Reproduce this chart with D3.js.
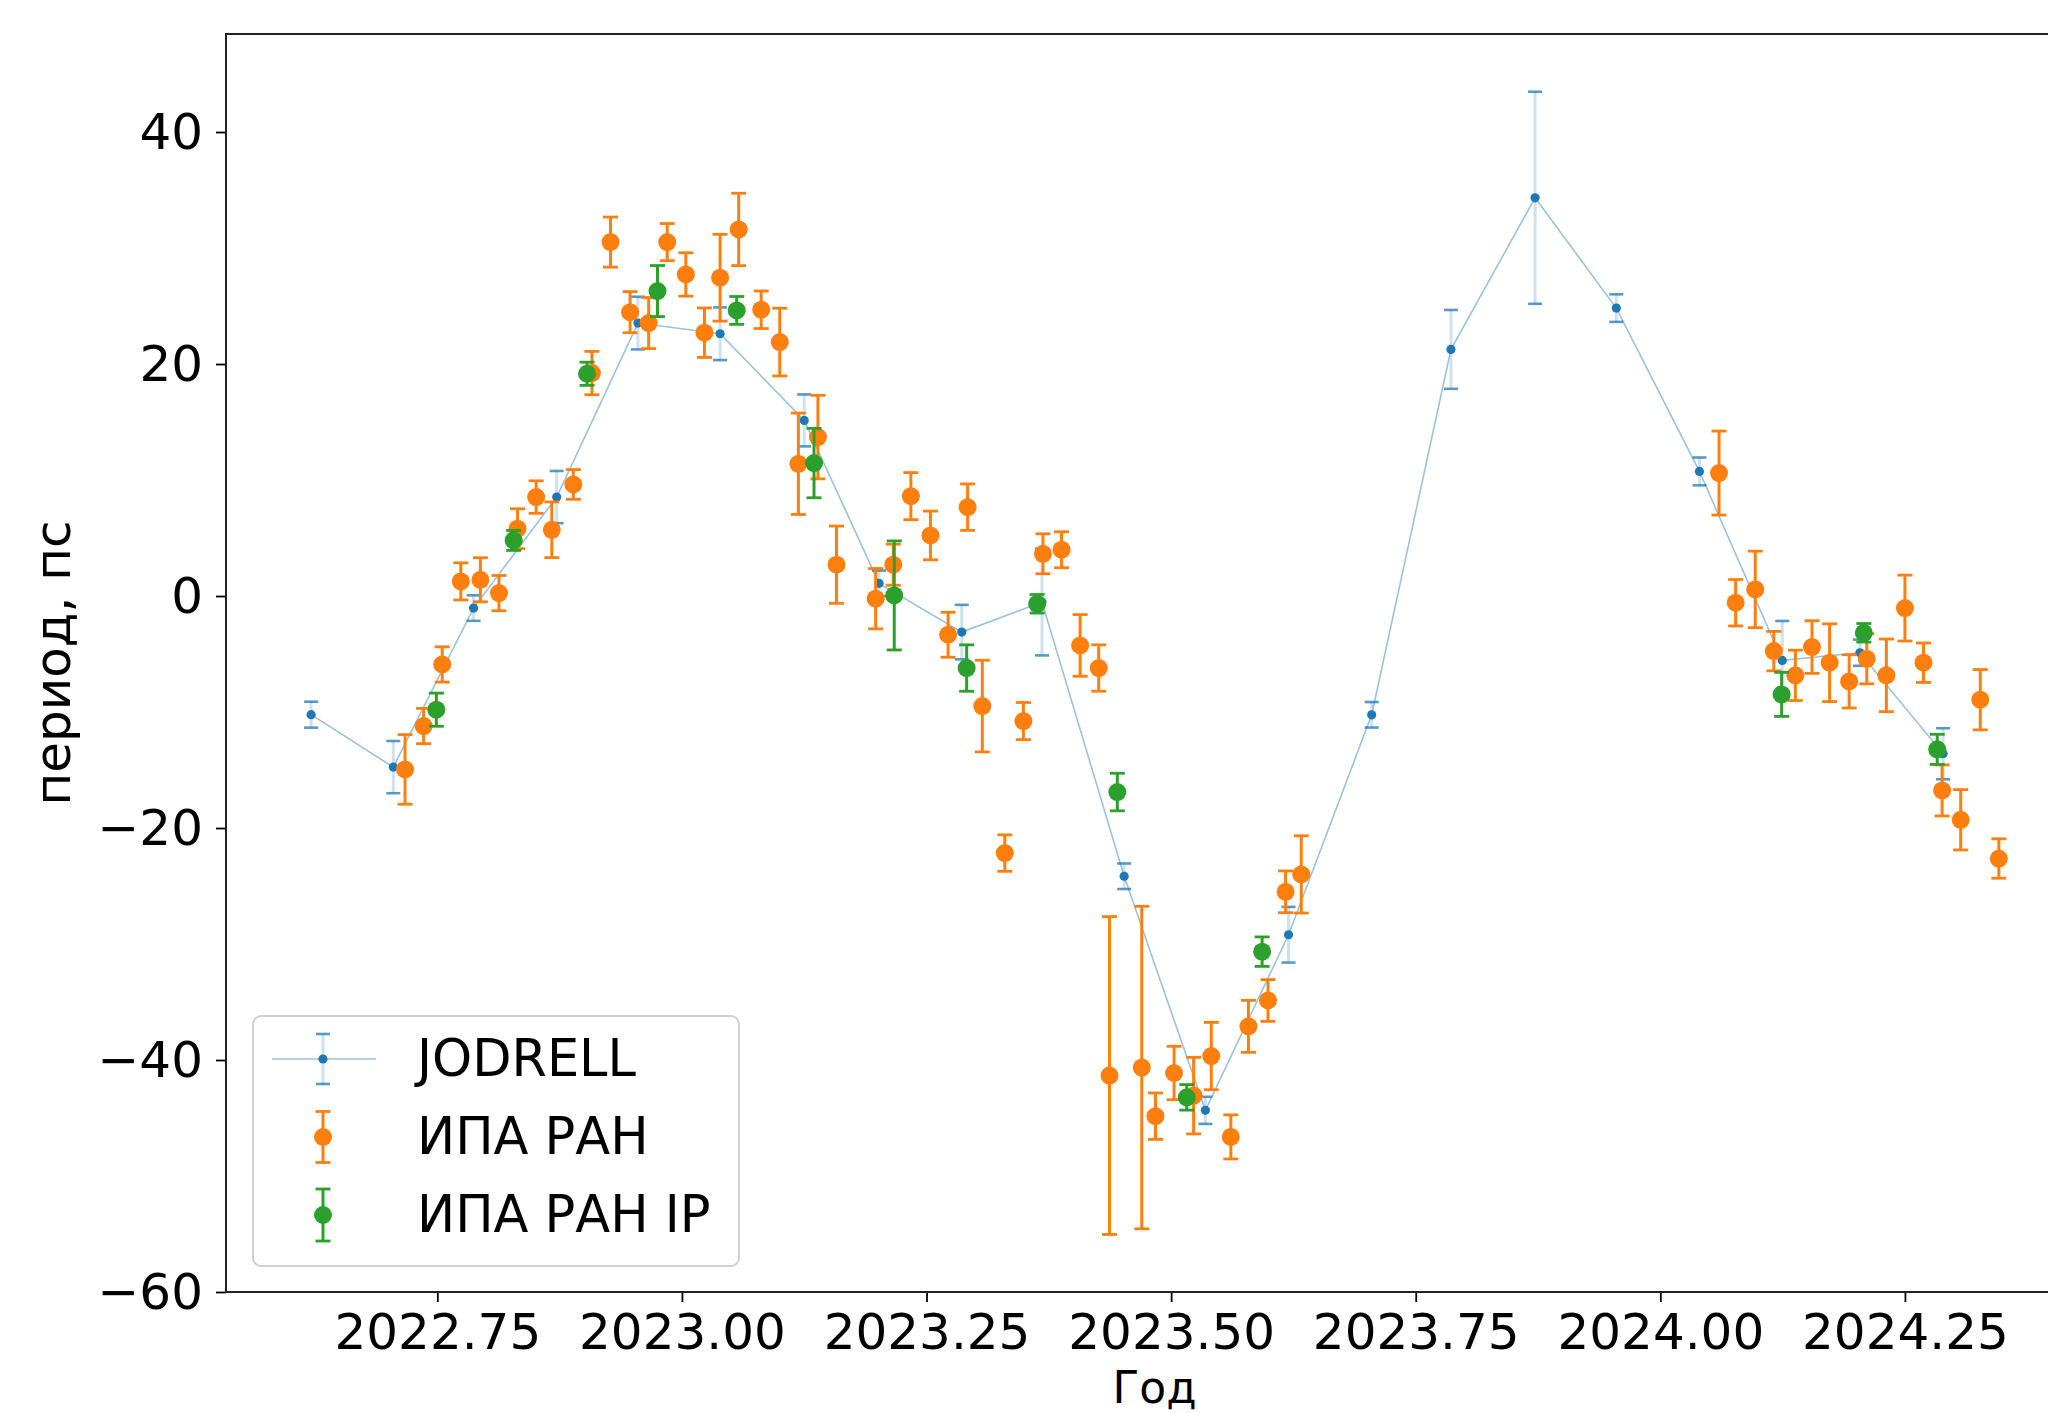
<!DOCTYPE html>
<html>
<head>
<meta charset="utf-8">
<script src="https://cdn.jsdelivr.net/npm/d3@7"></script>
<style>
  html, body { margin: 0; padding: 0; background: #ffffff; }
  svg { display: block; }
  text { font-family: "DejaVu Sans", sans-serif; }
</style>
</head>
<body>
<svg id="chart" width="2048" height="1413"></svg>
<script>
// JODRELL timing: epoch (year), period offset (ps), 1-sigma error
const jodrellT = [2022.621, 2022.705, 2022.787, 2022.872, 2022.955, 2023.039, 2023.125, 2023.2015,
  2023.286, 2023.368, 2023.452, 2023.535, 2023.620, 2023.705, 2023.786, 2023.872, 2023.955,
  2024.040, 2024.1246, 2024.204, 2024.289];
const jodrellV = [-10.23, -14.75, -1.04, 8.53, 23.53, 22.61, 15.14, 1.09,
  -3.11, -0.52, -24.16, -44.34, -29.2, -10.24, 21.26, 34.33, 24.82,
  10.74, -5.55, -4.89, -13.6];
const jodrellE = [1.12, 2.25, 1.1, 2.25, 2.27, 2.27, 2.24, 1.1,
  2.35, 4.6, 1.1, 1.17, 2.4, 1.1, 3.4, 9.14, 1.19,
  1.2, 3.4, 1.13, 2.2];

// ИПА РАН timing
const ipaT = [2022.717, 2022.736, 2022.755, 2022.774, 2022.794, 2022.813, 2022.832, 2022.851,
  2022.867, 2022.889, 2022.908, 2022.927, 2022.947, 2022.966, 2022.985, 2023.004,
  2023.023, 2023.039, 2023.058, 2023.081, 2023.100, 2023.119, 2023.139, 2023.158,
  2023.198, 2023.216, 2023.234, 2023.254, 2023.272, 2023.292, 2023.307, 2023.330,
  2023.349, 2023.369, 2023.388, 2023.407, 2023.426, 2023.437, 2023.470, 2023.484,
  2023.503, 2023.523, 2023.541, 2023.561, 2023.579, 2023.599, 2023.617, 2023.633,
  2024.060, 2024.077, 2024.097, 2024.116, 2024.138, 2024.155, 2024.173, 2024.193,
  2024.211, 2024.231, 2024.250, 2024.269, 2024.288, 2024.307, 2024.327, 2024.346];
const ipaV = [-14.95, -11.21, -5.9, 1.26, 1.4, 0.25, 5.8, 8.53,
  5.71, 9.62, 19.22, 30.51, 24.47, 23.53, 30.51, 27.72,
  22.7, 27.44, 31.6, 24.68, 21.89, 11.4, 13.7, 2.7,
  -0.23, 2.7, 8.61, 5.22, -3.34, 7.66, -9.49, -22.16,
  -10.78, 3.64, 3.99, -4.26, -6.21, -41.34, -40.65, -44.84,
  -41.12, -43.07, -39.66, -46.63, -37.1, -34.87, -25.5, -24.0,
  10.6, -0.58, 0.57, -4.75, -6.84, -4.4, -5.75, -7.36,
  -5.41, -6.84, -1.04, -5.75, -16.76, -19.29, -8.94, -22.63];
const ipaE = [3.0, 1.52, 1.52, 1.6, 1.9, 1.52, 1.72, 1.4,
  2.4, 1.28, 1.87, 2.16, 1.77, 2.2, 1.6, 1.87,
  2.13, 3.74, 3.12, 1.62, 2.92, 4.37, 3.6, 3.33,
  2.6, 1.77, 2.03, 2.1, 1.94, 2.0, 3.95, 1.57,
  1.6, 1.72, 1.55, 2.66, 2.0, 13.7, 13.9, 2.0,
  2.3, 3.3, 2.9, 1.9, 2.24, 1.8, 1.8, 3.33,
  3.62, 2.0, 3.3, 1.7, 2.17, 2.27, 3.35, 2.3,
  2.16, 3.13, 2.84, 1.7, 2.2, 2.6, 2.6, 1.7];

// ИПА РАН IP timing
const ipT = [2022.749, 2022.828, 2022.903, 2022.975, 2023.056, 2023.135, 2023.217, 2023.291,
  2023.363, 2023.445, 2023.516, 2023.593, 2024.124, 2024.208, 2024.283];
const ipV = [-9.8, 4.79, 19.16, 26.29, 24.62, 11.46, 0.05, -6.21,
  -0.67, -16.9, -43.22, -30.66, -8.48, -3.17, -13.22];
const ipE = [1.43, 0.86, 1.0, 2.2, 1.2, 2.99, 4.7, 2.0,
  0.8, 1.62, 1.1, 1.27, 1.9, 0.8, 1.3];

// Axis ticks and labels
const xTicks = [2022.75, 2023.00, 2023.25, 2023.50, 2023.75, 2024.00, 2024.25];
const yTicks = [-60, -40, -20, 0, 20, 40];
const xDomain = [2022.534, 2024.432];
const yDomain = [-60, 48.45];
const seriesNames = ["JODRELL", "ИПА РАН", "ИПА РАН IP"];
const xLabel = "Год";
const yLabel = "период, пс";

const C_BLUE = "#1f77b4", C_ORANGE = "#ff7f0e", C_GREEN = "#2ca02c";

const svg = d3.select("#chart");
svg.append("rect").attr("width", 2048).attr("height", 1413).attr("fill", "#ffffff");

const plot = { left: 226, right: 2083, top: 34, bottom: 1292 };
const x = d3.scaleLinear().domain(xDomain).range([plot.left, plot.right]);
const y = d3.scaleLinear().domain(yDomain).range([plot.bottom, plot.top]);

const zip = (t, v, e) => t.map((d, i) => ({ t: d, v: v[i], e: e[i] }));
const jodrell = zip(jodrellT, jodrellV, jodrellE);
const ipa = zip(ipaT, ipaV, ipaE);
const ip = zip(ipT, ipV, ipE);

// Axes
const fontSize = 50;
const xAxis = d3.axisBottom(x).tickValues(xTicks).tickFormat(d3.format(".2f"))
  .tickSize(10).tickPadding(11);
const yAxis = d3.axisLeft(y).tickValues(yTicks).tickFormat(d3.format("d"))
  .tickSize(10).tickPadding(13);

const gx = svg.append("g").attr("transform", `translate(0,${plot.bottom})`).call(xAxis);
const gy = svg.append("g").attr("transform", `translate(${plot.left},0)`).call(yAxis);
[gx, gy].forEach(g => {
  g.select(".domain").remove();
  g.selectAll(".tick line").attr("stroke", "#000").attr("stroke-width", 1.8);
  g.selectAll(".tick text").attr("fill", "#000").attr("font-size", fontSize)
    .attr("font-family", "DejaVu Sans, sans-serif");
});

// Frame
svg.append("rect")
  .attr("x", plot.left).attr("y", plot.top)
  .attr("width", plot.right - plot.left).attr("height", plot.bottom - plot.top)
  .attr("fill", "none").attr("stroke", "#222").attr("stroke-width", 2);

// Axis labels
svg.append("text").attr("x", (plot.left + plot.right) / 2).attr("y", 1403)
  .attr("text-anchor", "middle").attr("font-size", 44).attr("fill", "#000").text(xLabel);
svg.append("text").attr("transform", `translate(70,${(plot.top + plot.bottom) / 2}) rotate(-90)`)
  .attr("text-anchor", "middle").attr("font-size", fontSize).attr("fill", "#000").text(yLabel);

// Error-bar series drawer
function drawErrorbars(g, data, opt) {
  const bars = g.append("g");
  bars.selectAll("line.bar").data(data).join("line").attr("class", "bar")
    .attr("x1", d => x(d.t)).attr("x2", d => x(d.t))
    .attr("y1", d => y(d.v + d.e)).attr("y2", d => y(d.v - d.e))
    .attr("stroke", opt.color).attr("stroke-width", opt.barWidth)
    .attr("stroke-opacity", opt.barOpacity);
  ["top", "bot"].forEach(side => {
    bars.selectAll("line.cap-" + side).data(data).join("line").attr("class", "cap-" + side)
      .attr("x1", d => x(d.t) - opt.cap).attr("x2", d => x(d.t) + opt.cap)
      .attr("y1", d => y(side === "top" ? d.v + d.e : d.v - d.e))
      .attr("y2", d => y(side === "top" ? d.v + d.e : d.v - d.e))
      .attr("stroke", opt.color).attr("stroke-width", opt.capWidth)
      .attr("stroke-opacity", opt.capOpacity);
  });
  g.append("g").selectAll("circle").data(data).join("circle")
    .attr("cx", d => x(d.t)).attr("cy", d => y(d.v)).attr("r", opt.r)
    .attr("fill", opt.color);
}

const dataLayer = svg.append("g");

// JODRELL: thin connecting line
const gJ = dataLayer.append("g");
gJ.append("path").datum(jodrell)
  .attr("d", d3.line().x(d => x(d.t)).y(d => y(d.v)))
  .attr("fill", "none").attr("stroke", C_BLUE).attr("stroke-width", 1.6).attr("stroke-opacity", 0.45);
const optJ = { color: C_BLUE, barWidth: 3, barOpacity: 0.22, cap: 7, capWidth: 2.6, capOpacity: 0.75, r: 4.6 };
drawErrorbars(gJ, jodrell, optJ);

const optO = { color: C_ORANGE, barWidth: 3, barOpacity: 1, cap: 7.5, capWidth: 2.8, capOpacity: 1, r: 9 };
drawErrorbars(dataLayer.append("g"), ipa, optO);
const optG = { color: C_GREEN, barWidth: 3, barOpacity: 1, cap: 7.5, capWidth: 2.8, capOpacity: 1, r: 9 };
drawErrorbars(dataLayer.append("g"), ip, optG);

// Legend
const lg = svg.append("g");
lg.append("rect").attr("x", 253).attr("y", 1016).attr("width", 486).attr("height", 250)
  .attr("rx", 8).attr("fill", "#ffffff").attr("fill-opacity", 0.8)
  .attr("stroke", "#d0d0d0").attr("stroke-width", 2);
const rows = [
  { name: seriesNames[0], opt: optJ, line: true, cy: 1059, half: 25 },
  { name: seriesNames[1], opt: optO, line: false, cy: 1137, half: 25.5 },
  { name: seriesNames[2], opt: optG, line: false, cy: 1215, half: 26 }
];
const hx = 323;
rows.forEach(row => {
  const g = lg.append("g");
  if (row.line) {
    g.append("line").attr("x1", 272).attr("x2", 376).attr("y1", row.cy).attr("y2", row.cy)
      .attr("stroke", C_BLUE).attr("stroke-width", 1.6).attr("stroke-opacity", 0.45);
  }
  g.append("line").attr("x1", hx).attr("x2", hx).attr("y1", row.cy - row.half).attr("y2", row.cy + row.half)
    .attr("stroke", row.opt.color).attr("stroke-width", row.opt.barWidth).attr("stroke-opacity", row.opt.barOpacity);
  [-1, 1].forEach(s => {
    g.append("line").attr("x1", hx - row.opt.cap).attr("x2", hx + row.opt.cap)
      .attr("y1", row.cy + s * row.half).attr("y2", row.cy + s * row.half)
      .attr("stroke", row.opt.color).attr("stroke-width", row.opt.capWidth)
      .attr("stroke-opacity", row.opt.capOpacity);
  });
  g.append("circle").attr("cx", hx).attr("cy", row.cy).attr("r", row.opt.r).attr("fill", row.opt.color);
  g.append("text").attr("x", 417).attr("y", row.cy + 17).attr("font-size", 51)
    .attr("fill", "#000").text(row.name);
});
</script>
</body>
</html>
